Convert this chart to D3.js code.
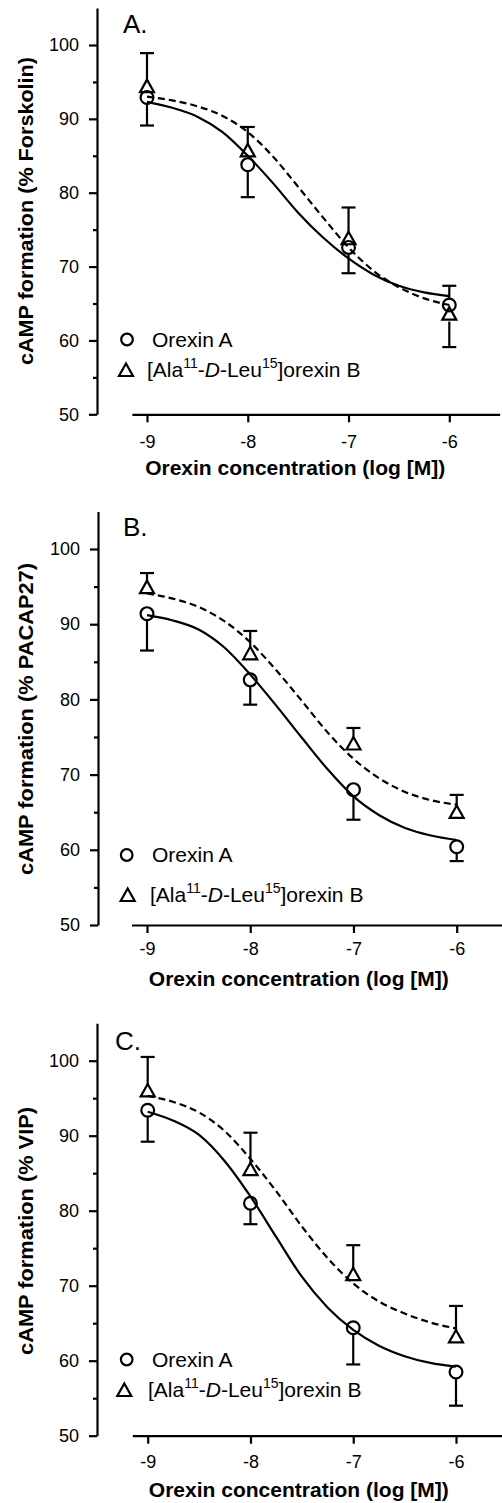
<!DOCTYPE html>
<html>
<head>
<meta charset="utf-8">
<script src="https://cdn.jsdelivr.net/npm/d3@7"></script>
<style>
  body { margin: 0; background: #fff; }
  svg { display: block; font-family: "Liberation Sans", Arial, sans-serif; }
</style>
</head>
<body>
<div id="graph"></div>
<script>
'use strict'

// log [M] of the tested concentrations, and points
const conc = [-9, -8, -7, -6]
const fitX = [-9, -8.75, -8.5, -8.25, -8, -7.75, -7.5, -7.25, -7, -6.75, -6.5, -6.25, -6]
const xTicks = [-9, -8, -7, -6]
const yTicks = [50, 60, 70, 80, 90, 100]
const yMinor = [55, 65, 75, 85, 95]

const panelLetters = ['A.', 'B.', 'C.']
const yTitles = ['cAMP formation (% Forskolin)', 'cAMP formation (% PACAP27)', 'cAMP formation (% VIP)']
const xTitle = 'Orexin concentration (log [M])'

// error bars are drawn one way only: the sign gives the direction
const orexinA_fsk = [92.9, 83.8, 72.6, 64.8]
const orexinA_fskErr = [-3.8, -4.4, -3.5, 2.6]
const alaB_fsk = [94.3, 85.6, 73.7, 63.5]
const alaB_fskErr = [4.6, 3.3, 4.3, -4.4]
const orexinA_fskFit = [92.3, 91.5, 90.3, 88.2, 85.0, 81.3, 77.3, 73.9, 71.1, 68.9, 67.4, 66.5, 66.0]
const alaB_fskFit = [93.0, 92.5, 91.7, 90.4, 88.2, 84.9, 80.8, 76.6, 72.6, 69.4, 67.2, 65.7, 64.8]

const orexinA_pacap = [91.4, 82.6, 68.0, 60.4]
const orexinA_pacapErr = [-4.9, -3.3, -4.0, -1.9]
const alaB_pacap = [94.8, 86.0, 74.0, 64.9]
const alaB_pacapErr = [2.0, 3.1, 2.2, 2.4]
const orexinA_pacapFit = [91.2, 90.5, 89.3, 86.9, 83.3, 79.2, 74.9, 70.7, 67.1, 64.6, 62.9, 61.9, 61.3]
const alaB_pacapFit = [94.1, 93.4, 92.3, 90.4, 87.6, 83.9, 79.8, 75.6, 72.1, 69.5, 67.7, 66.6, 66.0]

const orexinA_vip = [93.4, 81.0, 64.4, 58.5]
const orexinA_vipErr = [-4.2, -2.8, -4.9, -4.5]
const alaB_vip = [95.9, 85.4, 71.4, 63.1]
const alaB_vipErr = [4.6, 5.0, 4.0, 4.2]
const orexinA_vipFit = [93.2, 92.0, 90.1, 86.6, 81.9, 76.5, 71.2, 67.1, 64.1, 62.0, 60.6, 59.7, 59.2]
const alaB_vipFit = [95.3, 94.5, 93.1, 90.6, 86.9, 82.6, 77.9, 73.7, 70.3, 67.9, 66.3, 65.1, 64.3]

const data = [
  { a: orexinA_fsk, aErr: orexinA_fskErr, aFit: orexinA_fskFit, b: alaB_fsk, bErr: alaB_fskErr, bFit: alaB_fskFit },
  { a: orexinA_pacap, aErr: orexinA_pacapErr, aFit: orexinA_pacapFit, b: alaB_pacap, bErr: alaB_pacapErr, bFit: alaB_pacapFit },
  { a: orexinA_vip, aErr: orexinA_vipErr, aFit: orexinA_vipFit, b: alaB_vip, bErr: alaB_vipErr, bFit: alaB_vipFit }
]

// where each panel sits on the page
const layout = [
  { axX: 97, x9: 147, x6: 449.3, y50: 414.3, y100: 45, tickY: 33.5, titleY: 475, yTitleCY: 211, yTitleLen: 308,
    letterX: 123, letterY: 33, legA: [127, 346.5, 152], legB: [126, 377, 147] },
  { axX: 98, x9: 147, x6: 456.7, y50: 925, y100: 549, tickY: 30, titleY: 986, yTitleCY: 719, yTitleLen: 312,
    letterX: 123, letterY: 536, legA: [126.7, 862, 152], legB: [127.7, 902, 150] },
  { axX: 97, x9: 147.7, x6: 456, y50: 1435.7, y100: 1060.7, tickY: 32.5, titleY: 1497, yTitleCY: 1231, yTitleLen: 248,
    letterX: 115, letterY: 1050, legA: [126.7, 1366.5, 152], legB: [124.3, 1397, 148] }
]

const svg = d3.select('#graph').append('svg')
  .attr('width', 502)
  .attr('height', 1503)

const tri = (cx, cy) => `M${cx},${cy - 7.5}L${cx + 7},${cy + 5}L${cx - 7},${cy + 5}Z`

layout.forEach((p, i) => {
  let d = data[i]
  let g = svg.append('g')
  let x = d3.scaleLinear().domain([-9, -6]).range([p.x9, p.x6])
  let xa = x.copy().domain([-9.15, -5.5]).range([x(-9.15), x(-5.5)])
  let y = d3.scaleLinear().domain([50, 100]).range([p.y50, p.y100])
  let ya = y.copy().domain([50, 105]).range([y(50), y(105)])

  // y axis
  g.append('g')
    .attr('transform', `translate(${p.axX},0)`)
    .call(d3.axisLeft(ya).tickValues(yTicks).tickSize(8).tickSizeOuter(0).tickPadding(10).tickFormat(v => String(v)))
  g.append('g')
    .attr('transform', `translate(${p.axX},0)`)
    .call(d3.axisLeft(ya).tickValues(yMinor).tickSize(4).tickFormat(''))
    .call(s => s.select('.domain').remove())

  // x axis
  let xg = g.append('g')
    .attr('transform', `translate(0,${p.y50})`)
    .call(d3.axisBottom(xa).tickValues(xTicks).tickSize(8).tickSizeOuter(0).tickFormat(v => String(v)))
  xg.selectAll('text').attr('y', p.tickY).attr('dy', null)

  g.selectAll('.domain, .tick line')
    .attr('stroke', '#000')
    .attr('stroke-width', 2.2)
  g.selectAll('.tick text')
    .attr('fill', '#000')
    .attr('font-size', 18)
    .attr('font-family', '"Liberation Sans", Arial, sans-serif')

  // titles
  g.append('text')
    .attr('x', (p.x9 + p.x6) / 2 - 3)
    .attr('y', p.titleY)
    .attr('text-anchor', 'middle')
    .attr('font-weight', 'bold')
    .attr('font-size', 19.5)
    .attr('textLength', 300)
    .attr('lengthAdjust', 'spacingAndGlyphs')
    .text(xTitle)

  g.append('text')
    .attr('transform', `translate(33,${p.yTitleCY}) rotate(-90)`)
    .attr('text-anchor', 'middle')
    .attr('font-weight', 'bold')
    .attr('font-size', 19.5)
    .attr('textLength', p.yTitleLen)
    .attr('lengthAdjust', 'spacingAndGlyphs')
    .text(yTitles[i])

  g.append('text')
    .attr('x', p.letterX)
    .attr('y', p.letterY)
    .attr('font-size', 26)
    .text(panelLetters[i])

  // fitted curves
  let line = d3.line()
    .x(v => x(v[0]))
    .y(v => y(v[1]))
    .curve(d3.curveMonotoneX)

  g.append('path')
    .datum(d3.zip(fitX, d.aFit))
    .attr('fill', 'none')
    .attr('stroke', '#000')
    .attr('stroke-width', 2.2)
    .attr('d', line)

  g.append('path')
    .datum(d3.zip(fitX, d.bFit))
    .attr('fill', 'none')
    .attr('stroke', '#000')
    .attr('stroke-width', 2.2)
    .attr('stroke-dasharray', '7,4')
    .attr('d', line)

  // error bars (start at the marker edge)
  let bars = (vals, errs, gap) => {
    conc.forEach((c, k) => {
      let cx = x(c), y0 = y(vals[k]), y1 = y(vals[k] + errs[k])
      let dir = Math.sign(y1 - y0)
      if (Math.abs(y1 - y0) > gap) {
        g.append('line')
          .attr('x1', cx).attr('x2', cx)
          .attr('y1', y0 + dir * gap).attr('y2', y1)
          .attr('stroke', '#000').attr('stroke-width', 2.2)
      }
      g.append('line')
        .attr('x1', cx - 7).attr('x2', cx + 7)
        .attr('y1', y1).attr('y2', y1)
        .attr('stroke', '#000').attr('stroke-width', 2.2)
    })
  }
  bars(d.a, d.aErr, 6.5)
  bars(d.b, d.bErr, 7)

  // markers
  g.selectAll('.ptA')
    .data(d3.zip(conc, d.a))
    .join('circle')
    .attr('class', 'ptA')
    .attr('cx', v => x(v[0]))
    .attr('cy', v => y(v[1]))
    .attr('r', 6.4)
    .attr('fill', 'none')
    .attr('stroke', '#000')
    .attr('stroke-width', 2.2)

  g.selectAll('.ptB')
    .data(d3.zip(conc, d.b))
    .join('path')
    .attr('class', 'ptB')
    .attr('d', v => tri(x(v[0]), y(v[1])))
    .attr('fill', 'none')
    .attr('stroke', '#000')
    .attr('stroke-width', 2.2)

  // legend
  g.append('circle')
    .attr('cx', p.legA[0])
    .attr('cy', p.legA[1] - 7)
    .attr('r', 5.8)
    .attr('fill', 'none')
    .attr('stroke', '#000')
    .attr('stroke-width', 2.2)
  g.append('text')
    .attr('x', p.legA[2])
    .attr('y', p.legA[1])
    .attr('font-size', 21)
    .text('Orexin A')

  g.append('path')
    .attr('d', tri(p.legB[0], p.legB[1] - 6))
    .attr('fill', 'none')
    .attr('stroke', '#000')
    .attr('stroke-width', 2.2)
  let lt = g.append('text')
    .attr('x', p.legB[2])
    .attr('y', p.legB[1])
    .attr('font-size', 21)
  lt.append('tspan').text('[Ala')
  lt.append('tspan').attr('font-size', 14).attr('dy', -9).text('11')
  lt.append('tspan').attr('dy', 9).text('-')
  lt.append('tspan').attr('font-style', 'italic').text('D')
  lt.append('tspan').text('-Leu')
  lt.append('tspan').attr('font-size', 14).attr('dy', -9).text('15')
  lt.append('tspan').attr('dy', 9).text(']orexin B')
})
</script>
</body>
</html>
